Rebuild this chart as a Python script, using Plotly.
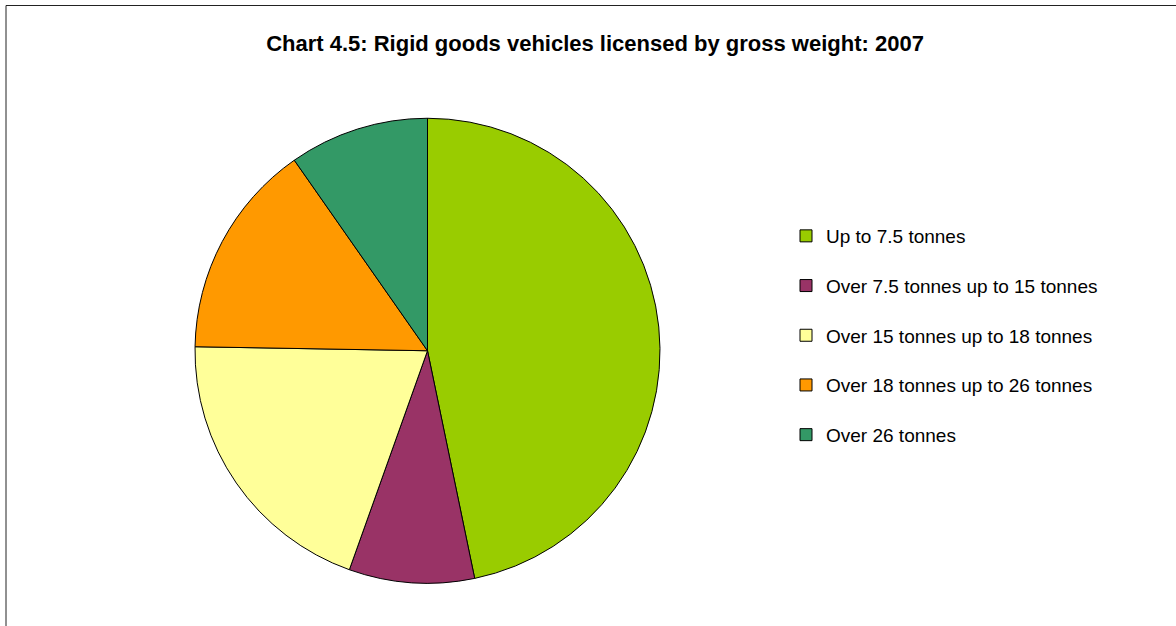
import plotly.graph_objects as go

# Rigid goods vehicles licensed by gross weight, 2007 (share of total, %)
categories = [
    "Up to 7.5 tonnes",
    "Over 7.5 tonnes up to 15 tonnes",
    "Over 15 tonnes up to 18 tonnes",
    "Over 18 tonnes up to 26 tonnes",
    "Over 26 tonnes",
]
shares = [46.7, 8.7, 19.8, 15.0, 9.7]
colors = ["#99CC00", "#993366", "#FFFF99", "#FF9900", "#339966"]

W, H = 1176, 626
FONT = "Arial, Liberation Sans, sans-serif"

fig = go.Figure()

fig.add_trace(go.Pie(
    labels=categories,
    values=shares,
    marker=dict(colors=colors, line=dict(color="black", width=1)),
    sort=False,
    direction="clockwise",
    rotation=0,
    textinfo="none",
    hoverinfo="label+percent",
    showlegend=False,
    domain=dict(x=[195 / W, 660 / W], y=[1 - 583.5 / H, 1 - 118 / H]),
))

# Legend entries: one square swatch per category
for i, (name, col) in enumerate(zip(categories, colors)):
    fig.add_trace(go.Scatter(
        x=[None], y=[None], mode="markers", name=name,
        legendgroup=f"g{i}",
        marker=dict(symbol="square", size=12, color=col,
                    line=dict(color="black", width=1)),
    ))

fig.update_layout(
    width=W, height=H,
    margin=dict(l=0, r=0, t=0, b=0),
    paper_bgcolor="white",
    plot_bgcolor="white",
    font=dict(family=FONT, color="black"),
    xaxis=dict(visible=False),
    yaxis=dict(visible=False),
    title=dict(
        text="<b>Chart 4.5: Rigid goods vehicles licensed by gross weight: 2007</b>",
        x=595 / W, xanchor="center",
        y=1 - 43 / H, yanchor="middle",
        font=dict(family=FONT, size=22, color="black"),
    ),
    legend=dict(
        x=(806 - 20) / W, xanchor="left",
        y=1 - 217 / H, yanchor="top",
        font=dict(family=FONT, size=19, color="black"),
        tracegroupgap=22,
        bgcolor="rgba(0,0,0,0)",
        itemclick=False, itemdoubleclick=False,
    ),
    shapes=[dict(
        type="rect", xref="paper", yref="paper",
        x0=6 / W, x1=1.02, y0=-0.02, y1=1 - 5.5 / H,
        line=dict(color="#222222", width=1),
        fillcolor="rgba(0,0,0,0)", layer="below",
    )],
)

fig.write_html("out.html")
